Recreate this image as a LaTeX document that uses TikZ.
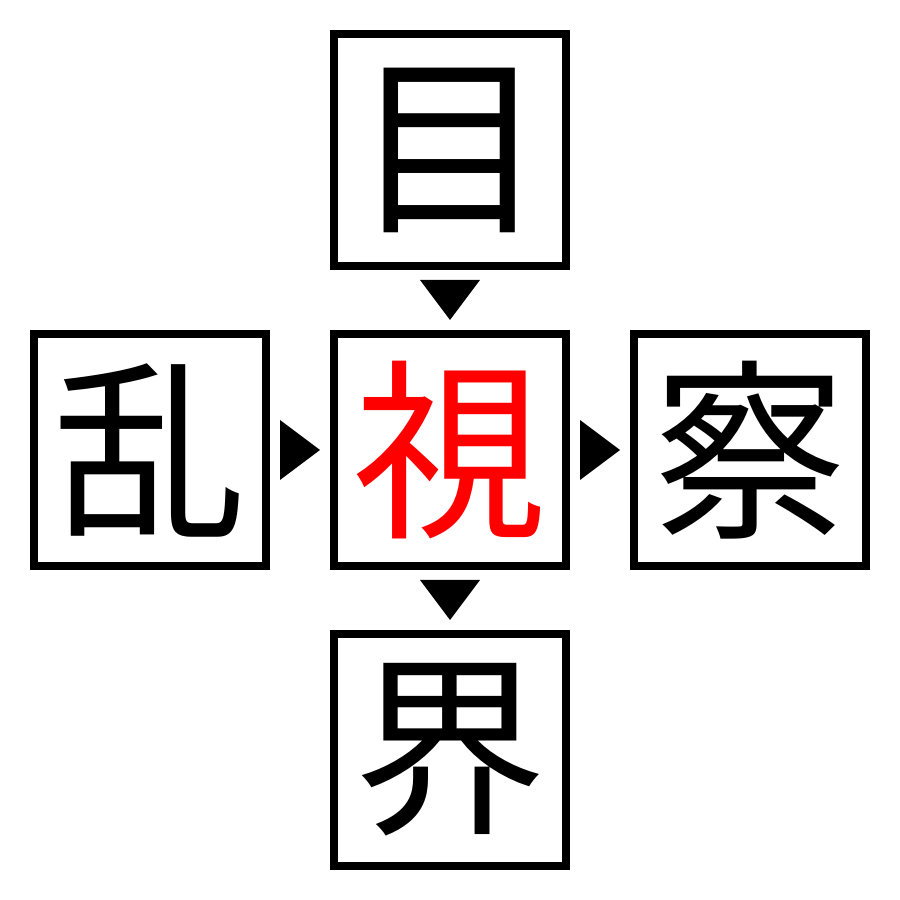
\documentclass[tikz,border=0pt]{standalone}
\usepackage{fontspec}
\newfontfamily\jp{Noto Sans CJK JP}
\usepackage{tikz}
\usetikzlibrary{positioning, calc}
\def\kanjisize{\fontsize{55}{55}\selectfont}
\def\downtri{+(-0.3,0.2) -- +(0.3,0.2) -- +(0,-0.2) -- cycle}
\def\righttri{+(-0.2,0.3) -- +(-0.2,-0.3) -- +(0.2,0) -- cycle}
\tikzset{kanji/.style={draw, line width=0.08cm, minimum size=2.32cm, inner sep=0pt, font=\jp\kanjisize}}

\begin{document}
\begin{tikzpicture}
	\useasboundingbox (0,0) rectangle (9,9);
%	\draw[help lines] (0,0) grid (9,9);

	\node[kanji, text=red] (mid) at (4.5,4.5) {視};
	\node[kanji, above=0.6cm of mid] (top) {目};
	\node[kanji, below=0.6cm of mid] (bot) {界};
	\node[kanji, left=0.6cm of mid] (left) {乱};
	\node[kanji, right=0.6cm of mid] (right) {察};

	\fill ($(top.south)!.5!(mid.north)$) \downtri;
	\fill ($(mid.south)!.5!(bot.north)$) \downtri;
	\fill ($(left.east)!.5!(mid.west)$) \righttri;
	\fill ($(mid.east)!.5!(right.west)$) \righttri;
\end{tikzpicture}
\end{document}
